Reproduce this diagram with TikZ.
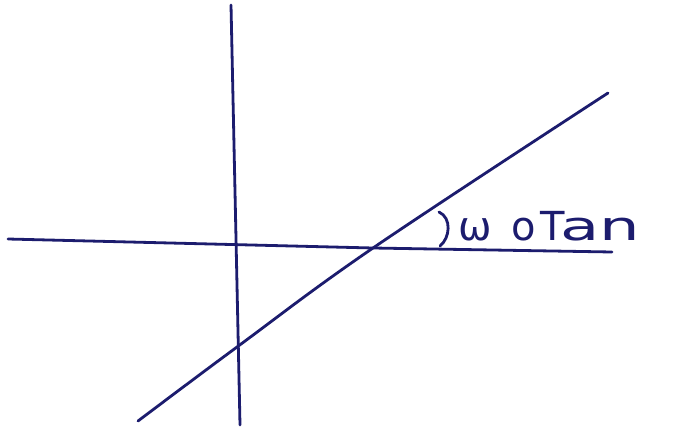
\documentclass[tikz,border=0pt]{standalone}
\usepackage{fontspec}
\newfontfamily\handfont{DejaVu Sans}
\begin{document}
\begin{tikzpicture}[x=1pt,y=-1pt,
  ink/.style={draw=inkblue,line width=2.8pt,line cap=round},
  lbl/.style={text=inkblue,font=\handfont\fontsize{40}{40}\selectfont,inner sep=0pt,anchor=base west}]
\definecolor{inkblue}{RGB}{28,28,110}
\useasboundingbox[fill=white] (0,0) rectangle (687,436);
\coordinate (vtop) at (231,5);
\coordinate (vmid) at (237,347);
\coordinate (vbot) at (240,425);
\coordinate (hleft) at (8,239);
\coordinate (hmid) at (373,248);
\coordinate (hright) at (612,252);
\coordinate (dbot) at (138,421);
\coordinate (dtop) at (608,93);
\draw[ink] (vtop) -- (vbot);
\draw[ink] (hleft) -- (hmid) -- (hright);
\draw[ink] plot[smooth,tension=0.6] coordinates {(dbot) (vmid) (hmid) (dtop)};
\coordinate (atop) at (439,212);
\coordinate (abot) at (440,246);
\draw[ink] (atop) .. controls (452,218) and (450,238) .. (abot);
\node[lbl] (angle) at (458,240) {ω\hspace{20pt}o\hspace{4pt}T\hspace{-4pt}\scalebox{1.6}[1]{an}};
\end{tikzpicture}
\end{document}
